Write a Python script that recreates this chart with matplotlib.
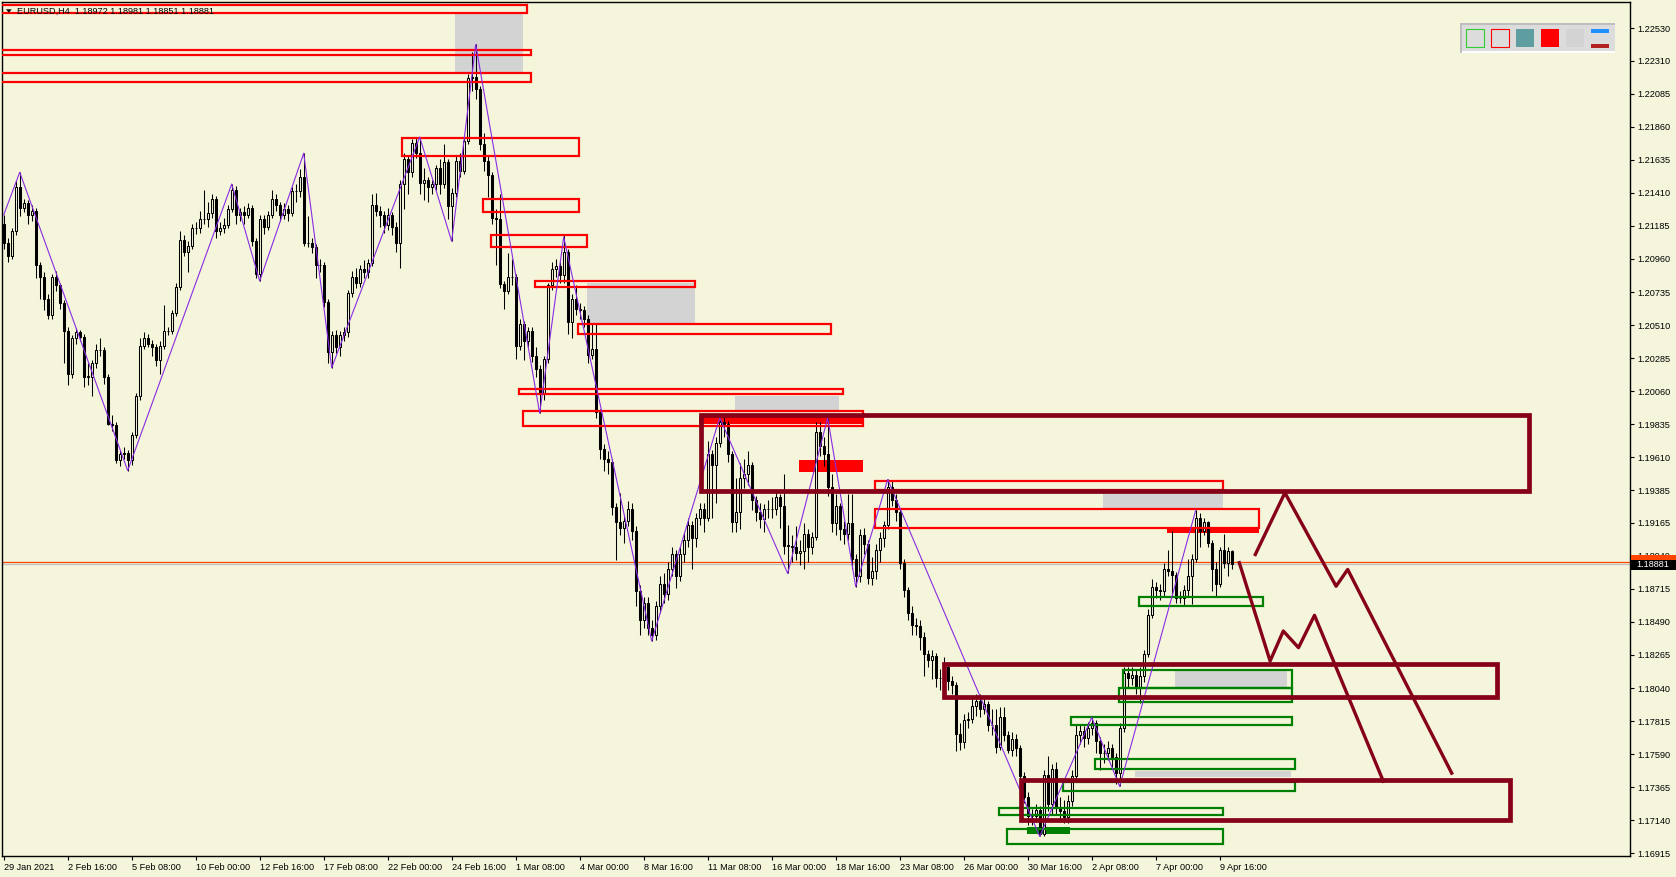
import matplotlib
matplotlib.use('Agg')
import matplotlib.pyplot as plt
from matplotlib.patches import Rectangle, Polygon

plt.rcParams['font.family'] = ['Liberation Sans', 'DejaVu Sans']

W, H = 1676, 877
BG = '#F5F5DC'
DR = '#850018'

# ---------------- data: EURUSD H4 candles (prices x 1e4) ----------------
first_open = 12120
close = [12107,12098,12115,12145,12131,12134,12126,12129,12092,12084,
 12069,12058,12084,12078,12066,12047,12018,12042,12046,12043,
 12016,12016,12025,12034,12034,12016,11984,11983,11959,11963,
 11964,11959,11976,12003,12037,12042,12038,12036,12027,12037,
 12047,12047,12059,12077,12109,12101,12105,12117,12117,12123,
 12123,12127,12137,12115,12117,12119,12130,12143,12126,12128,
 12126,12131,12108,12086,12123,12118,12126,12137,12133,12126,
 12130,12127,12142,12142,12152,12107,12107,12104,12092,12092,
 12067,12033,12044,12036,12044,12046,12073,12084,12080,12089,
 12087,12093,12133,12129,12126,12119,12126,12118,12107,12147,
 12164,12155,12175,12168,12148,12150,12145,12147,12158,12147,
 12162,12132,12141,12163,12156,12176,12219,12220,12212,12174,
 12163,12153,12124,12123,12079,12074,12084,12084,12037,12052,
 12040,12047,12030,12021,12005,12028,12078,12089,12091,12085,
 12101,12053,12069,12062,12061,12055,12031,12035,11992,11967,
 11960,11958,11927,11917,11913,11918,11926,11911,11870,11850,
 11862,11845,11840,11860,11875,11868,11885,11895,11880,11895,
 11905,11915,11906,11920,11926,11920,11963,11956,11971,11985,
 11984,11963,11917,11924,11947,11950,11956,11932,11924,11919,
 11926,11926,11926,11934,11928,11901,11901,11900,11896,11897,
 11909,11900,11907,11978,11969,11963,11941,11916,11928,11912,
 11909,11916,11892,11880,11908,11902,11879,11884,11898,11906,
 11915,11941,11932,11924,11889,11871,11855,11847,11846,11839,
 11827,11823,11826,11811,11811,11818,11809,11806,11773,11767,
 11782,11783,11792,11795,11790,11793,11779,11779,11764,11784,
 11772,11762,11769,11763,11744,11730,11717,11717,11721,11705,
 11745,11725,11749,11723,11720,11716,11727,11744,11772,11775,
 11770,11777,11780,11768,11760,11760,11763,11757,11746,11777,
 11814,11811,11813,11804,11812,11827,11854,11873,11871,11870,
 11885,11884,11881,11865,11865,11871,11880,11892,11920,11911,
 11917,11903,11885,11875,11898,11889,11897.2,11888.1]
high = [12126,12110,12117,12149,12155,12137,12136,12133,12131,12094,
 12087,12072,12086,12088,12080,12068,12050,12044,12049,12048,
 12045,12025,12027,12038,12042,12036,12018,11990,11985,11966,
 11968,11966,11978,12005,12042,12046,12045,12041,12038,12040,
 12065,12050,12061,12080,12115,12112,12108,12120,12121,12129,
 12143,12135,12140,12139,12121,12124,12133,12147,12146,12131,
 12132,12134,12133,12110,12126,12126,12129,12143,12140,12135,
 12134,12133,12145,12147,12157,12168,12125,12110,12106,12096,
 12094,12069,12047,12048,12047,12050,12075,12088,12090,12092,
 12095,12096,12140,12141,12132,12129,12131,12128,12121,12150,
 12168,12167,12178,12179,12179,12158,12152,12150,12160,12164,
 12174,12164,12144,12166,12168,12180,12222,12237,12242,12214,
 12182,12166,12155,12130,12140,12081,12100,12096,12086,12055,
 12054,12050,12050,12036,12024,12030,12080,12094,12096,12094,
 12112,12103,12072,12078,12066,12064,12058,12052,12052,11994,
 11970,11965,11960,11930,11937,11922,11931,11930,11914,11874,
 11866,11866,11850,11863,11880,11882,11890,11900,11898,11900,
 11910,11920,11918,11923,11930,11930,11972,11966,11975,11988,
 11989,11986,11965,11947,11957,11960,11965,11958,11935,11930,
 11929,11932,11934,11938,11936,11950,11915,11908,11914,11905,
 11916,11912,11910,11985,11985,11975,11988,11950,11936,11930,
 11918,11936,11936,11895,11912,11913,11905,11893,11902,11910,
 11918,11946,11945,11936,11926,11892,11873,11860,11852,11850,
 11842,11830,11830,11828,11817,11825,11820,11812,11808,11780,
 11786,11788,11797,11800,11800,11797,11795,11790,11790,11791,
 11791,11775,11774,11773,11765,11747,11733,11722,11725,11724,
 11748,11758,11752,11754,11730,11728,11731,11748,11779,11779,
 11778,11781,11784,11782,11771,11766,11768,11766,11760,11780,
 11818,11818,11818,11816,11818,11830,11858,11878,11876,11875,
 11889,11898,11911,11883,11870,11874,11892,11895,11925,11923,
 11920,11918,11905,11890,11900,11909,11900,11898.1]
low = [12103,12094,12096,12112,12125,12128,12120,12122,12083,12069,
 12061,12055,12055,12074,12062,12025,12010,12015,12038,12040,
 12009,12010,12003,12022,12030,12011,11983,11979,11957,11955,
 11960,11952,11956,11974,12000,12035,12036,12030,12023,12018,
 12035,12044,12045,12057,12075,12098,12087,12103,12113,12114,
 12120,12118,12124,12110,12112,12114,12117,12128,12120,12122,
 12120,12124,12105,12083,12081,12113,12116,12124,12129,12122,
 12123,12122,12125,12135,12138,12105,12104,12100,12083,12087,
 12063,12025,12022,12032,12030,12040,12043,12070,12076,12077,
 12083,12083,12091,12125,12118,12114,12116,12112,12101,12090,
 12130,12140,12152,12165,12140,12136,12135,12140,12143,12140,
 12144,12123,12108,12138,12152,12154,12174,12210,12205,12170,
 12156,12138,12120,12092,12076,12062,12072,12078,12028,12034,
 12027,12036,12026,12016,11991,12000,12025,12075,12084,12080,
 12080,12045,12042,12058,12055,12050,12025,12028,11988,11960,
 11952,11950,11922,11891,11908,11903,11914,11905,11860,11840,
 11845,11840,11836,11837,11855,11862,11864,11880,11872,11877,
 11890,11900,11885,11900,11915,11910,11918,11920,11930,11968,
 11975,11958,11910,11910,11912,11940,11942,11925,11918,11913,
 11910,11920,11920,11922,11913,11895,11882,11890,11891,11888,
 11885,11890,11895,11905,11962,11955,11935,11910,11908,11905,
 11902,11905,11885,11873,11876,11895,11875,11874,11878,11890,
 11900,11912,11928,11918,11885,11866,11850,11840,11840,11830,
 11812,11818,11810,11805,11803,11808,11803,11800,11761,11762,
 11763,11777,11780,11785,11784,11786,11775,11772,11760,11762,
 11768,11760,11758,11758,11740,11726,11711,11711,11713,11703,
 11703,11720,11718,11718,11714,11712,11712,11724,11740,11766,
 11764,11766,11772,11760,11748,11753,11755,11750,11739,11737,
 11774,11805,11806,11800,11794,11808,11825,11852,11865,11864,
 11866,11880,11866,11862,11862,11860,11866,11861,11890,11900,
 11908,11900,11870,11866,11873,11886,11880,11885.1]

# zigzag pivots (bar index, price)
zz_bar = [0, 4, 31, 57, 64, 75, 82, 104, 112, 118, 134, 140, 162, 179, 196, 206, 213, 221, 259, 272, 279, 298]
zz_price = [1.2126, 1.2155, 1.1952, 1.2147, 1.2081, 1.2168, 1.2022, 1.2179, 1.2108, 1.2242, 1.1991,
            1.2111, 1.1836, 1.1988, 1.1882, 1.1988, 1.1873, 1.1946, 1.1703, 1.1784, 1.1737, 1.1925]

# zones: (bar_from, bar_to, price_top, price_bottom)
red_zones = [(-2, 130.8, 1.22689, 1.22632), (-2, 131.8, 1.22380, 1.22351), (-2, 131.8, 1.22225, 1.22164),
             (99.6, 143.8, 1.21781, 1.21660), (119.7, 143.8, 1.21368, 1.21283), (121.7, 145.9, 1.21122, 1.21039),
             (132.8, 172.8, 1.20813, 1.20772), (143.6, 206.7, 1.20520, 1.20452), (128.8, 209.9, 1.20078, 1.20039),
             (129.7, 214.7, 1.19927, 1.19825), (217.7, 304.8, 1.19450, 1.19390), (217.7, 313.8, 1.19261, 1.19132)]
gray_zones = [(112.9, 129.7, 1.22630, 1.22225), (145.9, 172.8, 1.20800, 1.20527), (182.8, 208.8, 1.20029, 1.19932),
              (274.8, 304.8, 1.19364, 1.19268), (292.8, 320.8, 1.18156, 1.18047), (282.8, 321.8, 1.17474, 1.17433)]
red_filled = [(173.8, 214.5, 1.19886, 1.19836), (198.8, 214.7, 1.19590, 1.19507), (290.7, 313.8, 1.19132, 1.19093)]
green_zones = [(283.8, 314.9, 1.18662, 1.18598), (279.8, 322, 1.18161, 1.18042), (278.8, 322, 1.18038, 1.17946),
               (266.8, 322, 1.17842, 1.17790), (272.8, 322.8, 1.17556, 1.17487), (264.8, 322.8, 1.17400, 1.17340),
               (248.8, 304.9, 1.17223, 1.17176), (250.7, 304.9, 1.17080, 1.16976)]
green_filled = [(255.9, 266.6, 1.17096, 1.17050)]
maroon_zones = [(174.3, 381.2, 1.19898, 1.19380), (235, 373.4, 1.18201, 1.17978), (254.3, 376.6, 1.17417, 1.17144)]

# forecast paths
pathA_bar = [308.9, 316.6, 319.9, 323.7, 327.7, 344.9]
pathA_price = [1.18893, 1.18224, 1.18428, 1.18315, 1.18535, 1.17406]
pathB_bar = [312.9, 320.3, 333.1, 336.0, 362.0]
pathB_price = [1.18949, 1.19369, 1.18733, 1.18847, 1.17461]

hline_price = 1.18900
bid_price = 1.18881

ytick_labels = ['1.22530', '1.22310', '1.22085', '1.21860', '1.21635', '1.21410', '1.21185', '1.20960',
                '1.20735', '1.20510', '1.20285', '1.20060', '1.19835', '1.19610', '1.19385', '1.19165',
                '1.18940', '1.18715', '1.18490', '1.18265', '1.18040', '1.17815', '1.17590', '1.17365',
                '1.17140', '1.16915']
xtick_labels = ['29 Jan 2021', '2 Feb 16:00', '5 Feb 08:00', '10 Feb 00:00', '12 Feb 16:00', '17 Feb 08:00',
                '22 Feb 00:00', '24 Feb 16:00', '1 Mar 08:00', '4 Mar 00:00', '8 Mar 16:00', '11 Mar 08:00',
                '16 Mar 00:00', '18 Mar 16:00', '23 Mar 08:00', '26 Mar 00:00', '30 Mar 16:00', '2 Apr 08:00',
                '7 Apr 00:00', '9 Apr 16:00']
xtick_step = 16

# ---------------- figure ----------------
fig = plt.figure(figsize=(W / 100, H / 100), dpi=100, facecolor=BG)
ax = fig.add_axes([2 / W, 1 - 856 / H, 1628 / W, 854 / H], facecolor=BG)
ax.set_xlim(-0.425, 406.575)
ax.set_ylim(1.16897, 1.22709)

C = [c / 1e4 for c in close]
Hh = [h / 1e4 for h in high]
Ll = [l / 1e4 for l in low]
O = [first_open / 1e4] + C[:-1]
O[-1] = 1.18972

def zone(b0, b1, top, bot, **kw):
    ax.add_patch(Rectangle((b0, bot), b1 - b0, top - bot, **kw))

for z in gray_zones:
    zone(*z, facecolor='#D3D3D3', edgecolor='none', zorder=1)
for z in red_filled:
    zone(*z, facecolor='#FF0000', edgecolor='none', zorder=1.5)
for z in green_filled:
    zone(*z, facecolor='#008000', edgecolor='none', zorder=1.5)

# candles
for i in range(len(C)):
    o, c = O[i], C[i]
    lo = min(Ll[i], o, c)
    hi = max(Hh[i], o, c)
    ax.vlines(i, lo, hi, color='black', linewidth=0.75, zorder=2)
    bull = c >= o
    ax.bar(i, max(abs(c - o), 0.000005), bottom=min(o, c), width=0.55,
           color=BG if bull else 'black', edgecolor='black', linewidth=0.75, zorder=2.5)

for z in red_zones:
    zone(*z, facecolor='none', edgecolor='#FF0000', linewidth=1.6, zorder=3)
for z in green_zones:
    zone(*z, facecolor='none', edgecolor='#008000', linewidth=1.6, zorder=3)

ax.plot(zz_bar, zz_price, color='#8A2BE2', linewidth=0.8, zorder=4)

ax.axhline(hline_price, color='#FF4500', linewidth=0.9, zorder=1.2)
ax.axhline(bid_price, color='#C0C0C0', linewidth=0.9, zorder=1.2)

for z in maroon_zones:
    zone(*z, facecolor='none', edgecolor=DR, linewidth=3.4, joinstyle='miter', zorder=5)
ax.plot(pathA_bar, pathA_price, color=DR, linewidth=2.4, zorder=5)
ax.plot(pathB_bar, pathB_price, color=DR, linewidth=2.4, zorder=5)

# axes styling
for s in ax.spines.values():
    s.set_color('black')
    s.set_linewidth(1.0)
ax.yaxis.tick_right()
ax.set_yticks([float(v) for v in ytick_labels])
ax.set_yticklabels(ytick_labels)
ax.set_xticks([k * xtick_step for k in range(len(xtick_labels))])
ax.set_xticklabels(xtick_labels)
for lbl in ax.get_xticklabels():
    lbl.set_ha('left')
ax.tick_params(axis='y', direction='out', length=3, width=0.8, pad=2.5, labelsize=6.6, colors='black')
ax.tick_params(axis='x', direction='out', length=3, width=0.8, pad=2, labelsize=6.6, colors='black')

def fx(x):
    return x / W

def fy(y):
    return 1 - y / H

def fig_rect(x0, y0, x1, y1, **kw):
    fig.patches.append(Rectangle((fx(x0), fy(y1)), fx(x1) - fx(x0), fy(y0) - fy(y1),
                                 transform=fig.transFigure, figure=fig, **kw))

# price markers on axis
fig_rect(1631, 555, 1676, 559.5, facecolor='#FF4500', edgecolor='none')
fig_rect(1631, 559.5, 1676, 569.5, facecolor='black', edgecolor='none')
fig.text(fx(1636.5), fy(564.5), '1.18881', color='white', fontsize=6.6, va='center', ha='left')

# legend panel
fig_rect(1460, 23, 1615, 53, facecolor='#DCDCDC', edgecolor='none')
fig_rect(1460, 23, 1615, 25, facecolor='#BEBEBE', edgecolor='none')
fig_rect(1460, 23, 1462, 53, facecolor='#BEBEBE', edgecolor='none')
fig_rect(1462, 51, 1615, 53, facecolor='white', edgecolor='none')
fig_rect(1465.5, 28.5, 1484, 47, facecolor='#DCDCDC', edgecolor='#32CD32', linewidth=0.8)
fig_rect(1490.5, 28.5, 1509, 47, facecolor='#DCDCDC', edgecolor='#FF0000', linewidth=0.8)
fig_rect(1516, 29, 1534, 46.7, facecolor='#5F9EA0', edgecolor='none')
fig_rect(1541, 29, 1559, 46.7, facecolor='#FF0000', edgecolor='none')
fig_rect(1566, 29, 1584, 46.7, facecolor='#D3D3D3', edgecolor='none')
fig_rect(1591, 29, 1609, 32.7, facecolor='#1E90FF', edgecolor='none')
fig_rect(1591, 44, 1609, 47.7, facecolor='#B22222', edgecolor='none')

# title
fig.patches.append(Polygon([(fx(6), fy(9.3)), (fx(11.7), fy(9.3)), (fx(8.85), fy(12.8))], closed=True,
                           transform=fig.transFigure, figure=fig, facecolor='black', edgecolor='none'))
fig.text(fx(17), fy(13.8), 'EURUSD,H4  1.18972 1.18981 1.18851 1.18881', fontsize=6.6,
         va='baseline', ha='left', color='black')

fig.savefig('out.png', dpi=100, facecolor=BG)
